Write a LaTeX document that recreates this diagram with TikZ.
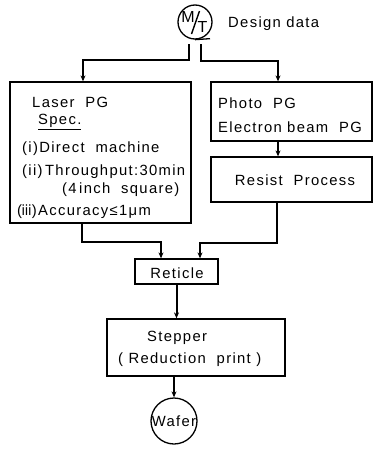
\documentclass[tikz,border=0pt]{standalone}
\usepackage{fontspec}
\usepackage{graphicx}
\setmainfont{Liberation Sans}[LetterSpace=9]
\usetikzlibrary{arrows.meta}
\begin{document}
\begin{tikzpicture}[x=1pt,y=-1pt,
  box/.style={draw,line width=1.3pt,inner sep=0pt},
  txt/.style={inner sep=0pt,anchor=west,font=\fontsize{14.8}{17}\selectfont},
  ctxt/.style={inner sep=0pt,font=\fontsize{14.8}{17}\selectfont},
  conn/.style={line width=2pt,-{Stealth[length=6pt,width=5pt]}},
  plain/.style={line width=2pt}]
\useasboundingbox (0,0) rectangle (376,450);
% M/T tape symbol
\node[draw,circle,line width=1.3pt,minimum size=34pt,inner sep=0pt] (mt) at (195,22) {};
\node[ctxt,font=\fontsize{16}{18}\selectfont] (mtM) at (188,17) {M};
\node[ctxt,font=\fontsize{16}{18}\selectfont] (mtT) at (202.5,27) {T};
\draw[line width=1.4pt] (191.5,34) -- (199.5,11);
\draw[line width=1.3pt] (mt.south) -- ++(15,-1);
\node[txt] (design) at (228,24) {Design data};
\coordinate (mtL) at (189,44);
\coordinate (mtR) at (201,44);
% boxes
\node[box,minimum width=181pt,minimum height=141pt] (laser) at (100.5,152.5) {};
\node[box,minimum width=161pt,minimum height=59pt] (photo) at (291.5,111.5) {};
\node[box,minimum width=161pt,minimum height=45pt] (resist) at (291.5,179.5) {};
\node[box,minimum width=83pt,minimum height=25pt] (reticle) at (176.5,271.5) {};
\node[box,minimum width=178pt,minimum height=57pt] (stepper) at (196,347.5) {};
\node[draw,circle,line width=1.3pt,minimum size=46pt,inner sep=0pt] (wafer) at (174,421) {};
% texts
\node[txt] (t1) at (32,102) {Laser\ \ PG};
\node[txt] (t2) at (38,122) {\underline{Spec.}};
\node[txt] (t3) at (22,149) {(i)Direct\ \ machine};
\node[txt] (t4) at (22,172) {(ii)\,Throughput:30min};
\node[txt] (t5) at (62,190) {(4\,inch\ \ square)};
\node[txt] (t6) at (17,212) {(\scalebox{0.6}[1]{\textbf{iii}})Accuracy≤1μm};
\node[txt] (p1) at (218,103) {Photo\ \ PG};
\node[txt] (p2) at (218,127) {Electron beam\ \ PG};
\node[ctxt] (r1) at (295,180) {Resist\ \ Process};
\node[ctxt] (re) at (177,273) {Reticle};
\node[txt] (s1) at (147,338) {Stepper};
\node[txt] (s2) at (118,360) {(\ Reduction\ \ print\ )};
\node[ctxt] (w) at (wafer.center) {Wafer};
% connectors
\draw[conn] (mtL) -- ++(0,16) -| ([xshift=-17.5pt]laser.north);
\draw[conn] (mtR) -- ++(0,17) -| ([xshift=-13.5pt]photo.north);
\draw[conn] ([xshift=-13.5pt]photo.south) -- ([xshift=-13.5pt]resist.north);
\draw[conn] ([xshift=-18.5pt]laser.south) -- ++(0,18) -| ([xshift=-15.5pt]reticle.north);
\draw[conn] ([xshift=-14.5pt]resist.south) -- ++(0,40) -| ([xshift=23.5pt]reticle.north);
\draw[conn] (reticle.south) -- (reticle.south |- stepper.north);
\draw[conn] (stepper.south -| wafer.north) -- (wafer.north);
\end{tikzpicture}
\end{document}
